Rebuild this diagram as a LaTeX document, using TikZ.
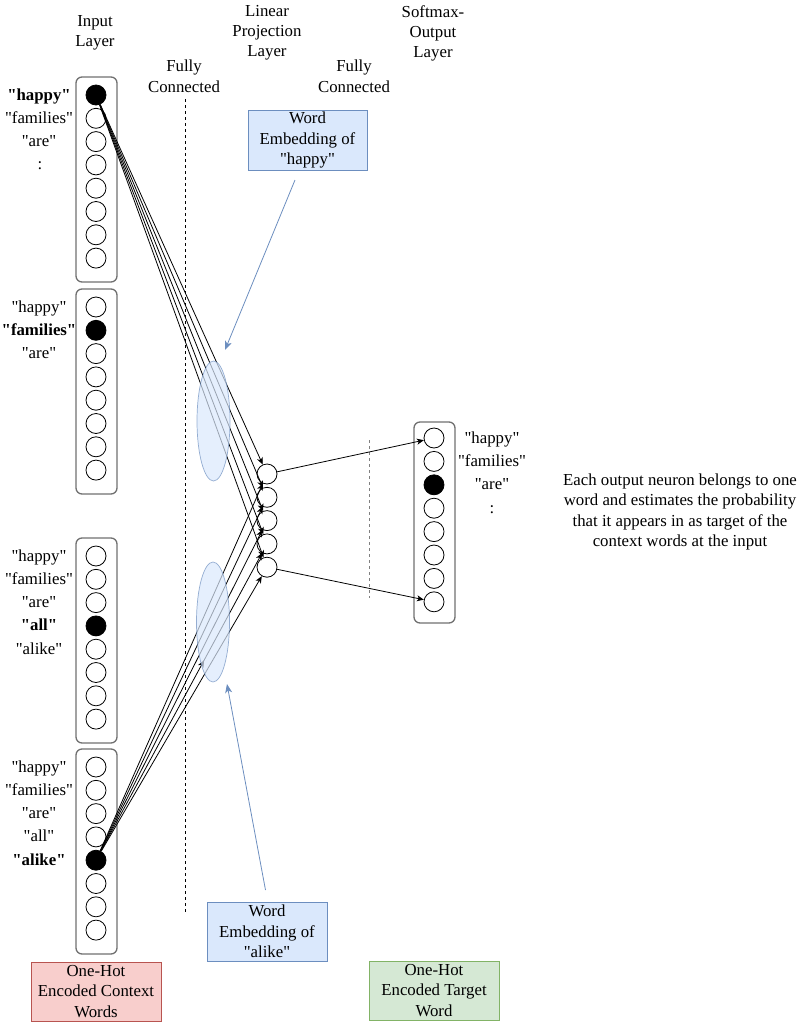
\documentclass[tikz,border=0pt]{standalone}
\usepackage{fontspec}
\setmainfont{Liberation Serif}[Ligatures=TeXOff]
\usetikzlibrary{arrows.meta,decorations.markings,shapes.geometric}
\definecolor{embfill}{HTML}{DAE8FC}
\definecolor{embdraw}{HTML}{6C8EBF}
\definecolor{ctxfill}{HTML}{F8CECC}
\definecolor{ctxdraw}{HTML}{B85450}
\definecolor{tgtfill}{HTML}{D5E8D4}
\definecolor{tgtdraw}{HTML}{82B366}
\definecolor{boxgray}{HTML}{707070}
\begin{document}
\begin{tikzpicture}[x=1pt,y=-1pt,
  txt/.style={font=\fontsize{16.8}{20.3}\selectfont, align=center, inner sep=0pt},
  neuron/.style={circle, draw=black, line width=0.8pt, minimum size=20pt, inner sep=0pt, fill=white},
  active/.style={neuron, fill=black},
  layerbox/.style={draw=boxgray, line width=1.3pt, rounded corners=6pt},
  conn/.style={line width=0.8pt, -{Stealth[length=7pt,width=6pt,inset=2pt]}},
  midarrow/.style={postaction={decorate}, decoration={markings, mark=at position #1 with {\arrow{Stealth[length=7pt,width=6pt,inset=2pt]}}}},
  embell/.style={ellipse, draw=embdraw, fill=embfill, fill opacity=0.7, draw opacity=0.7, line width=0.7pt, minimum width=33pt, minimum height=120pt, inner sep=0pt},
  pointer/.style={draw=embdraw, line width=0.8pt, -{Stealth[length=9pt,width=7pt,inset=2.5pt]}},
  tagbox/.style={txt, draw=#1draw, fill=#1fill, line width=0.9pt, minimum width=120pt, minimum height=59pt},
  wide/.style={minimum width=130pt}
]
\useasboundingbox (0,0) rectangle (810,1023);

% headers
\node[txt, anchor=north] (hin) at (95,15) {Input\\Layer};
\node[txt, anchor=north] (hfc1) at (184,60) {Fully\\Connected};
\node[txt, anchor=north] (hlin) at (267,5) {Linear\\Projection\\Layer};
\node[txt, anchor=north] (hfc2) at (354,60) {Fully\\Connected};
\node[txt, anchor=north] (hsm) at (433,5) {Softmax-\\Output\\Layer};

% dashed separators
\draw[line width=0.8pt, dash pattern=on 3pt off 3pt] (185,99) -- (185,912);
\draw[line width=1pt, draw=gray, dash pattern=on 3pt off 3pt] (369,440) -- (369,598);

% input layers
\foreach \bx/\y/\act in {a/95/0, b/307/1, c/556/3, d/767/4} {
  \draw[layerbox] (76,{\y-18}) rectangle (117,{\y+187});
  \foreach \k in {0,...,7} {
    \ifnum\k=\act\relax \def\st{active}\else\def\st{neuron}\fi
    \node[\st] (\bx\k) at (96,{\y+\k*23.3}) {};
  }
}

% input labels
\node[txt, anchor=base] (la0) at (39,{95+5}) {\textbf{"happy"}};
\node[txt, anchor=base] (la1) at (39,{95+23.3+5}) {"families"};
\node[txt, anchor=base] (la2) at (39,{95+46.6+5}) {"are"};
\node[txt, anchor=base] (la3) at (40,{95+69.9+5}) {:};

\node[txt, anchor=base] (lb0) at (39,{307+5}) {"happy"};
\node[txt, anchor=base] (lb1) at (39,{307+23.3+5}) {\textbf{"families"}};
\node[txt, anchor=base] (lb2) at (39,{307+46.6+5}) {"are"};

\node[txt, anchor=base] (lc0) at (39,{556+5}) {"happy"};
\node[txt, anchor=base] (lc1) at (39,{556+23.3+5}) {"families"};
\node[txt, anchor=base] (lc2) at (39,{556+46.6+5}) {"are"};
\node[txt, anchor=base] (lc3) at (39,{556+69.9+5}) {\textbf{"all"}};
\node[txt, anchor=base] (lc4) at (39,{556+93.2+5}) {"alike"};

\node[txt, anchor=base] (ld0) at (39,{767+5}) {"happy"};
\node[txt, anchor=base] (ld1) at (39,{767+23.3+5}) {"families"};
\node[txt, anchor=base] (ld2) at (39,{767+46.6+5}) {"are"};
\node[txt, anchor=base] (ld3) at (39,{767+69.9+5}) {"all"};
\node[txt, anchor=base] (ld4) at (39,{767+93.2+5}) {\textbf{"alike"}};

% projection layer
\foreach \k in {0,...,4} {
  \node[neuron] (p\k) at (267,{474+\k*23.3}) {};
}

% output layer
\draw[layerbox] (414,422) rectangle (455,623);
\foreach \k in {0,...,7} {
  \ifnum\k=2\relax \def\st{active}\else\def\st{neuron}\fi
  \node[\st] (o\k) at (434,{438+\k*23.4}) {};
}
\node[txt, anchor=base] (lo0) at (492,{438+5}) {"happy"};
\node[txt, anchor=base] (lo1) at (492,{438+23.4+5}) {"families"};
\node[txt, anchor=base] (lo2) at (492,{438+46.8+5}) {"are"};
\node[txt, anchor=base] (lo3) at (492,{438+70.2+5}) {:};

% connections input -> projection
\foreach \k in {0,...,4} {
  \draw[conn] (a0) -- (p\k);
}
\draw[conn] (d4) -- (p0);
\draw[conn] (d4) -- (p1);
\draw[conn] (d4) -- (p2);
\draw[conn, midarrow=0.64] (d4) -- (p3);
\draw[conn] (d4) -- (p4);

% projection -> output
\draw[conn] (p0) -- (o0);
\draw[conn] (p4) -- (o7);

% embedding ellipses
\node[embell] (e1) at (213.5,421) {};
\node[embell] (e2) at (213,622) {};

% description
\node[txt] (desc) at (680,512) {Each output neuron belongs to one\\word and estimates the probability\\that it appears in as target of the\\context words at the input};

% embedding labels
\node[tagbox=emb, minimum width=119pt, minimum height=60pt] (wh) at (307.5,140) {Word\\Embedding of\\"happy"};
\node[tagbox=emb, minimum width=120pt, minimum height=59pt] (wa) at (267,931.5) {Word\\Embedding of\\"alike"};
\coordinate (whs) at (295,180);
\coordinate (wht) at (225,350);
\coordinate (was) at (265.5,890);
\coordinate (wat) at (227,684);
\draw[pointer] (whs) -- (wht);
\draw[pointer] (was) -- (wat);

% bottom tags
\node[tagbox=ctx, wide, minimum height=59pt] (ctx) at (96,991.5) {One-Hot\\Encoded Context\\Words};
\node[tagbox=tgt, wide, minimum height=59pt] (tgt) at (434,990.5) {One-Hot\\Encoded Target\\Word};
\end{tikzpicture}
\end{document}
